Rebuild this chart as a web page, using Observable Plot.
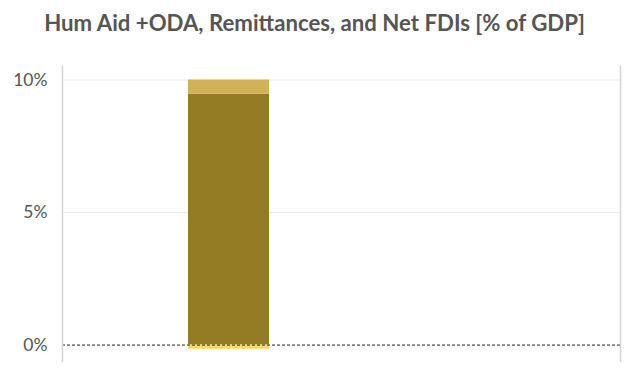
<!DOCTYPE html>
<html>
<head>
<meta charset="utf-8">
<script src="https://cdn.jsdelivr.net/npm/d3@7"></script>
<script src="https://cdn.jsdelivr.net/npm/@observablehq/plot@0.6"></script>
<style>
  html, body { margin: 0; padding: 0; background: #fff; }
  #wrap { width: 629px; height: 372px; position: relative; overflow: hidden; }
  #title { height: 50px; width: 629px; text-align: center; font-family: Lato, "Noto Sans", sans-serif;
           font-weight: 700; font-size: 22.2px; color: #555; line-height: 46px; }
</style>
</head>
<body>
<div id="wrap">
  <div id="title">Hum Aid +ODA, Remittances, and Net FDIs [% of GDP]</div>
  <div id="chart"></div>
</div>
<script>
const categories = ["Total"];
const seriesNames = ["Hum Aid + ODA", "Remittances", "Net FDIs"];
const seriesValues = [9.46, 0.54, -0.16];
const seriesColors = ["#937C24", "#D2B257", "#FFD966"];
const yTicks = [0, 5, 10];

const data = seriesNames.map((s, i) => ({category: categories[0], series: s, value: seriesValues[i]}));

const chart = Plot.plot({
  width: 629,
  height: 322,
  marginLeft: 62,
  marginRight: 9,
  marginTop: 16,
  marginBottom: 11,
  style: {fontFamily: "Lato, 'Noto Sans', sans-serif", fontSize: "17.5px", color: "#555", background: "#fff"},
  x: {domain: categories, paddingInner: 0, paddingOuter: 2.944, align: 0.264, axis: null},
  y: {domain: [-0.62, 10.51], ticks: yTicks, tickFormat: d => d + "%", tickSize: 0, tickPadding: 15, label: null},
  color: {domain: seriesNames, range: seriesColors},
  marks: [
    Plot.gridY(yTicks.filter(d => d !== 0), {stroke: "#ebebeb", strokeOpacity: 1, strokeWidth: 1}),
    Plot.barY(data, {x: "category", y: "value", fill: "series", order: seriesNames}),
    Plot.ruleY([0], {stroke: "#222", strokeWidth: 1, strokeDasharray: "3,2"}),
    Plot.frame({anchor: "left", stroke: "#d4d4d4", strokeWidth: 1.5}),
    Plot.frame({anchor: "right", stroke: "#d4d4d4", strokeWidth: 1.5})
  ]
});
document.getElementById("chart").appendChild(chart);
</script>
</body>
</html>
